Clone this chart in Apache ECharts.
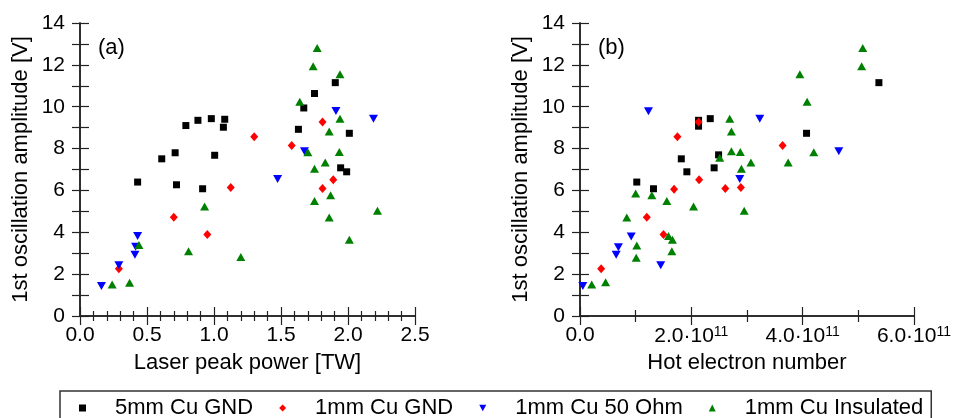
<!DOCTYPE html>
<html>
<head>
<meta charset="utf-8">
<script src="https://cdn.jsdelivr.net/npm/echarts@6/dist/echarts.min.js"></script>
<style>
  html, body { margin: 0; padding: 0; background: #fff; }
  #chart { width: 954px; height: 418px; }
</style>
</head>
<body>
<div id="chart"></div>
<script>
// (a) laser peak power [TW] vs amplitude [V]
const cu5GndPower = [[0.43,6.40],[0.61,7.51],[0.71,7.80],[0.72,6.27],[0.79,9.10],[0.88,9.35],[0.915,6.08],[0.98,9.43],[1.005,7.68],[1.07,9.02],[1.08,9.40],[1.63,8.92],[1.67,9.94],[1.75,10.63],[1.905,11.15],[1.945,7.08],[1.99,6.89],[2.01,8.73]];
const cu1GndPower = [[0.29,2.26],[0.70,4.72],[0.95,3.90],[1.125,6.14],[1.30,8.56],[1.58,8.15],[1.81,9.27],[1.81,6.09],[1.89,6.51]];
const cu1OhmPower = [[0.16,1.43],[0.29,2.42],[0.41,2.93],[0.415,3.31],[0.43,3.82],[1.475,6.55],[1.675,7.87],[1.91,9.80],[2.19,9.43]];
const cu1InsPower = [[0.24,1.51],[0.37,1.59],[0.44,3.39],[0.81,3.09],[0.93,5.23],[1.20,2.82],[1.64,10.24],[1.70,7.83],[1.74,11.93],[1.75,7.03],[1.75,5.49],[1.77,12.81],[1.83,7.33],[1.86,8.81],[1.86,4.71],[1.87,5.77],[1.935,7.84],[1.94,9.42],[1.94,11.55],[2.01,3.64],[2.22,5.03]];

// (b) hot electron number vs amplitude [V]
const cu5GndHot = [[1.02e11,6.40],[1.32e11,6.08],[1.82e11,7.51],[1.92e11,6.89],[2.13e11,9.35],[2.13e11,9.07],[2.34e11,9.43],[2.41e11,7.08],[2.49e11,7.70],[4.07e11,8.73],[5.37e11,11.15]];
const cu1GndHot = [[0.38e11,2.26],[1.20e11,4.72],[1.50e11,3.90],[1.69e11,6.06],[1.75e11,8.56],[2.13e11,9.27],[2.14e11,6.51],[2.61e11,6.09],[2.89e11,6.14],[3.64e11,8.15]];
const cu1OhmHot = [[0.05e11,1.43],[0.65e11,2.93],[0.69e11,3.28],[0.92e11,3.80],[1.23e11,9.78],[1.45e11,2.42],[2.87e11,6.55],[3.23e11,9.43],[4.65e11,7.87]];
const cu1InsHot = [[0.21e11,1.51],[0.46e11,1.61],[0.84e11,4.71],[1.00e11,5.85],[1.02e11,3.37],[1.01e11,2.78],[1.29e11,5.77],[1.56e11,5.49],[1.59e11,3.82],[1.66e11,3.64],[1.65e11,3.09],[2.04e11,5.23],[2.51e11,7.56],[2.69e11,9.42],[2.72e11,8.81],[2.72e11,7.87],[2.88e11,7.84],[2.90e11,7.03],[2.95e11,5.03],[3.07e11,7.33],[3.74e11,7.33],[3.95e11,11.55],[4.08e11,10.24],[4.20e11,7.83],[5.06e11,11.93],[5.08e11,12.81]];

const seriesNames = ['5mm Cu GND', '1mm Cu GND', '1mm Cu 50 Ohm', '1mm Cu Insulated'];

const FONT = 'Liberation Sans, Arial, sans-serif';
const lineColor = '#222';

const myChart = echarts.init(document.getElementById('chart'), null, {renderer: 'canvas'});

const styles = [
  {symbol: 'rect', symbolSize: 7, color: '#000000'},
  {symbol: 'diamond', symbolSize: [8, 9], color: '#ff0000'},
  {symbol: 'path://M0,0 L10,0 L5,9 Z', symbolSize: [9, 8], color: '#0000ff'},
  {symbol: 'triangle', symbolSize: [9, 8], color: '#008000'}
];

function frameX(gridIndex, opts) {
  return [{
    type: 'value', gridIndex, position: 'bottom',
    min: opts.min, max: opts.max, interval: opts.interval,
    name: opts.name, nameLocation: 'middle', nameGap: 36,
    nameTextStyle: {fontFamily: FONT, fontSize: 22, color: '#000'},
    axisLine: {show: true, lineStyle: {color: lineColor, width: 1.5}},
    axisTick: {show: true, inside: true, length: 9, lineStyle: {color: lineColor, width: 1.2}},
    minorTick: {show: true, splitNumber: opts.minor, length: opts.minorLen, lineStyle: {color: lineColor, width: 1.2}},
    axisLabel: {fontFamily: FONT, fontSize: 21, color: '#000', margin: 9, formatter: opts.formatter, rich: opts.rich},
    splitLine: {show: false}
  }, {
    type: 'value', gridIndex, position: 'top',
    min: opts.min, max: opts.max, interval: opts.interval,
    axisLine: {show: true, lineStyle: {color: lineColor, width: 1.5}},
    axisTick: {show: true, inside: true, length: 9, lineStyle: {color: lineColor, width: 1.2}},
    minorTick: {show: true, splitNumber: opts.minor, length: opts.minorLen, lineStyle: {color: lineColor, width: 1.2}},
    axisLabel: {show: false},
    splitLine: {show: false}
  }];
}

function frameY(gridIndex) {
  return [{
    type: 'value', gridIndex, position: 'left',
    min: 0, max: 14, interval: 2,
    name: '1st oscillation amplitude [V]', nameLocation: 'middle', nameRotate: 90, nameGap: 48,
    nameTextStyle: {fontFamily: FONT, fontSize: 22, color: '#000'},
    axisLine: {show: true, lineStyle: {color: lineColor, width: 1.5}},
    axisTick: {show: true, inside: true, length: 9, lineStyle: {color: lineColor, width: 1.2}},
    minorTick: {show: true, splitNumber: 2, length: 9, lineStyle: {color: lineColor, width: 1.2}},
    axisLabel: {fontFamily: FONT, fontSize: 21, color: '#000', margin: 15},
    splitLine: {show: false}
  }, {
    type: 'value', gridIndex, position: 'right',
    min: 0, max: 14, interval: 2,
    axisLine: {show: true, lineStyle: {color: lineColor, width: 1.5}},
    axisTick: {show: true, inside: true, length: 8, lineStyle: {color: lineColor, width: 1.2}},
    minorTick: {show: true, splitNumber: 2, length: 8, lineStyle: {color: lineColor, width: 1.2}},
    axisLabel: {show: false},
    splitLine: {show: false}
  }];
}

const hotFormatter = function (v) {
  if (v === 0) return '{b|0.0}';
  return '{b|' + (v / 1e11).toFixed(1) + '·10}{s|11}';
};

const leftData = [cu5GndPower, cu1GndPower, cu1OhmPower, cu1InsPower];
const rightData = [cu5GndHot, cu1GndHot, cu1OhmHot, cu1InsHot];

const series = [];
[leftData, rightData].forEach((set, k) => {
  set.forEach((d, i) => {
    series.push({
      type: 'scatter',
      name: seriesNames[i],
      xAxisIndex: k * 2,
      yAxisIndex: k * 2,
      data: d,
      symbol: styles[i].symbol,
      symbolSize: styles[i].symbolSize,
      itemStyle: {color: styles[i].color, opacity: 1},
      silent: true
    });
  });
});

myChart.setOption({
  animation: false,
  backgroundColor: '#fff',
  title: [
    {text: '(a)', left: 93, top: 32, textStyle: {fontFamily: FONT, fontSize: 22, fontWeight: 'normal', color: '#000'}},
    {text: '(b)', left: 593, top: 32, textStyle: {fontFamily: FONT, fontSize: 22, fontWeight: 'normal', color: '#000'}}
  ],
  grid: [
    {left: 80, width: 335, top: 23, height: 293},
    {left: 580, width: 334, top: 23, height: 293}
  ],
  xAxis: [
    ...frameX(0, {min: 0, max: 2.5, interval: 0.5, minor: 5, minorLen: 5, name: 'Laser peak power [TW]',
      formatter: v => v.toFixed(1)}),
    ...frameX(1, {min: 0, max: 6e11, interval: 2e11, minor: 2, minorLen: 6, name: 'Hot electron number',
      formatter: hotFormatter,
      rich: {
        b: {fontFamily: FONT, fontSize: 21, color: '#000'},
        s: {fontFamily: FONT, fontSize: 14, color: '#000', verticalAlign: 'top', padding: [0, 0, 8, 0]}
      }})
  ],
  yAxis: [...frameY(0), ...frameY(1)],
  legend: {
    data: seriesNames,
    left: 60, top: 391,
    orient: 'horizontal',
    padding: [6, 8, 30, 19],
    borderColor: '#333', borderWidth: 1.5,
    itemWidth: 7, itemHeight: 7, itemGap: 26,
    textStyle: {fontFamily: FONT, fontSize: 22, color: '#000', padding: [0, 0, 0, 24]}
  },
  series
});
</script>
</body>
</html>
